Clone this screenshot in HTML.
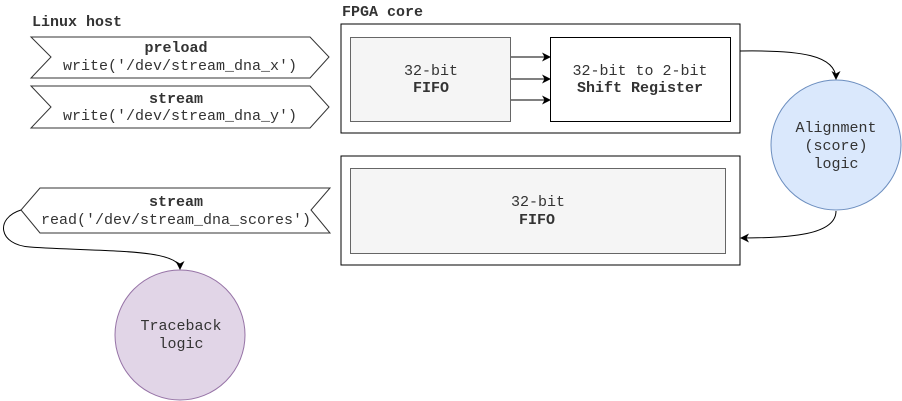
<!DOCTYPE html>
<html><head><meta charset="utf-8"><style>
html,body{margin:0;padding:0;background:#fff;width:902px;height:401px;overflow:hidden}
svg text{font-family:"Liberation Mono","DejaVu Sans Mono",monospace !important;font-size:15px;fill:#333}
.b{font-weight:bold}
</style></head><body>
<svg width="902" height="401" viewBox="0 0 902 401" xmlns="http://www.w3.org/2000/svg" font-family="Liberation Mono, monospace">
<defs><marker id="a" markerWidth="9" markerHeight="9" refX="8" refY="4.5" orient="auto" markerUnits="userSpaceOnUse"><path d="M0,0 L9,4.5 L0,9 L2.5,4.5 Z" fill="#000"/></marker></defs>
<text x="32" y="26" class="b" fill="#222" font-family="Liberation Mono, monospace">Linux host</text>
<text x="342" y="16" class="b" font-family="Liberation Mono, monospace">FPGA core</text>
<polygon points="31,37 310,37 329,57 310,78 31,78 51,57" fill="#fff" stroke="#333"/>
<text x="176" y="52" class="b" text-anchor="middle" font-family="Liberation Mono, monospace">preload</text>
<text x="180" y="70" text-anchor="middle" font-family="Liberation Mono, monospace">write('/dev/stream_dna_x')</text>
<polygon points="31,86 310,86 329,107 310,128 31,128 51,107" fill="#fff" stroke="#333"/>
<text x="176" y="103" class="b" text-anchor="middle" font-family="Liberation Mono, monospace">stream</text>
<text x="180" y="120" text-anchor="middle" font-family="Liberation Mono, monospace">write('/dev/stream_dna_y')</text>
<polygon points="40,188 330,188 311,210 330,233 40,233 21,210" fill="#fff" stroke="#333"/>
<text x="176" y="206" class="b" text-anchor="middle" font-family="Liberation Mono, monospace">stream</text>
<text x="176" y="224" text-anchor="middle" font-family="Liberation Mono, monospace">read('/dev/stream_dna_scores')</text>
<rect x="341" y="24" width="399" height="109" fill="#fff" stroke="#000"/>
<rect x="350.5" y="37.5" width="160" height="84" fill="#f5f5f5" stroke="#666"/>
<text x="431" y="75" text-anchor="middle" font-family="Liberation Mono, monospace">32-bit</text>
<text x="431" y="92" class="b" text-anchor="middle" font-family="Liberation Mono, monospace">FIFO</text>
<rect x="550.5" y="37.5" width="180" height="84" fill="#fff" stroke="#000"/>
<text x="640" y="75" text-anchor="middle" font-family="Liberation Mono, monospace">32-bit to 2-bit</text>
<text x="640" y="92" class="b" text-anchor="middle" font-family="Liberation Mono, monospace">Shift Register</text>
<line x1="511" y1="57" x2="550" y2="57" stroke="#000" marker-end="url(#a)"/>
<line x1="511" y1="79" x2="550" y2="79" stroke="#000" marker-end="url(#a)"/>
<line x1="511" y1="100" x2="550" y2="100" stroke="#000" marker-end="url(#a)"/>
<rect x="341" y="156" width="399" height="109" fill="#fff" stroke="#000"/>
<rect x="350.5" y="168.5" width="375" height="85" fill="#f5f5f5" stroke="#666"/>
<text x="538" y="206" text-anchor="middle" font-family="Liberation Mono, monospace">32-bit</text>
<text x="537" y="224" class="b" text-anchor="middle" font-family="Liberation Mono, monospace">FIFO</text>
<circle cx="836" cy="145" r="65" fill="#dae8fc" stroke="#6c8ebf"/>
<text x="836" y="132" text-anchor="middle" font-family="Liberation Mono, monospace">Alignment</text>
<text x="836" y="150" text-anchor="middle" font-family="Liberation Mono, monospace">(score)</text>
<text x="836" y="168" text-anchor="middle" font-family="Liberation Mono, monospace">logic</text>
<circle cx="180" cy="335" r="65" fill="#e1d5e7" stroke="#9673a6"/>
<text x="181" y="330" text-anchor="middle" font-family="Liberation Mono, monospace">Traceback</text>
<text x="181" y="348" text-anchor="middle" font-family="Liberation Mono, monospace">logic</text>
<path d="M740,51 C800,50 836,55 836,79" fill="none" stroke="#000" marker-end="url(#a)"/>
<path d="M836,211 C836,235 790,238 741,238" fill="none" stroke="#000" marker-end="url(#a)"/>
<path d="M21,210 C-5,218 -2,245 30,247 C100,252 180,248 180,269" fill="none" stroke="#000" marker-end="url(#a)"/>
</svg>
</body></html>
